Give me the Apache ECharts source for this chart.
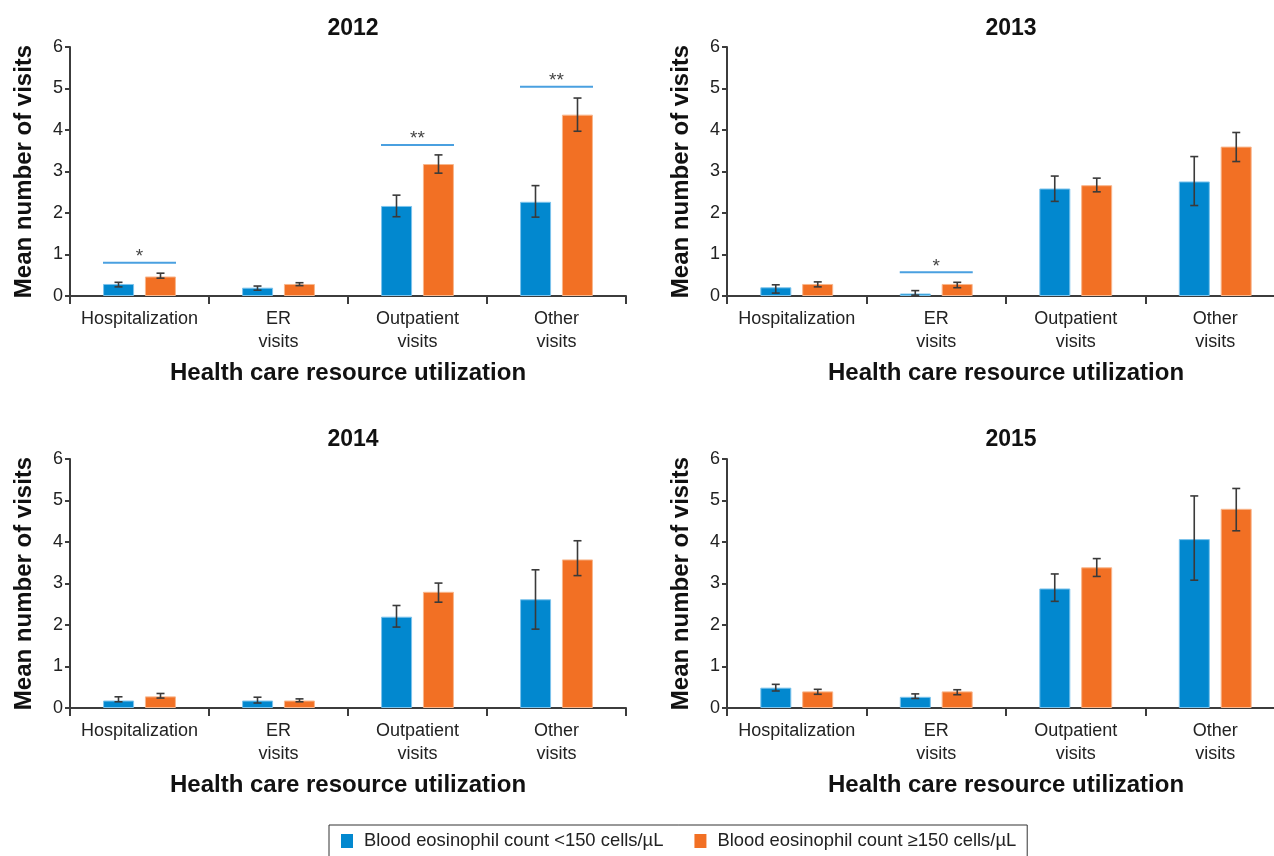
<!DOCTYPE html>
<html><head><meta charset="utf-8">
<script src="https://cdn.jsdelivr.net/npm/echarts@6/dist/echarts.min.js"></script>
<style>html,body{margin:0;padding:0;background:#fff;overflow:hidden;width:1274px;height:856px}#c{width:1290px;height:856px}</style>
</head><body><div id="c"></div>
<script>
const categories = ['Hospitalization', 'ER\nvisits', 'Outpatient\nvisits', 'Other\nvisits'];
const years = ['2012', '2013', '2014', '2015'];
const seriesNames = ['Blood eosinophil count <150 cells/µL', 'Blood eosinophil count ≥150 cells/µL'];

// Means: low eosinophil (<150) and high eosinophil (>=150)
const lowMean2012 = [0.29, 0.20, 2.17, 2.27];
const highMean2012 = [0.47, 0.29, 3.18, 4.37];
const lowMean2013 = [0.21, 0.06, 2.59, 2.76];
const highMean2013 = [0.29, 0.29, 2.67, 3.60];
const lowMean2014 = [0.18, 0.18, 2.20, 2.62];
const highMean2014 = [0.28, 0.18, 2.80, 3.58];
const lowMean2015 = [0.49, 0.27, 2.88, 4.07];
const highMean2015 = [0.40, 0.40, 3.39, 4.80];

// Error bar ranges [lower, upper]
const lowErr2012 = [[0.22, 0.33], [0.14, 0.24], [1.91, 2.43], [1.90, 2.66]];
const highErr2012 = [[0.43, 0.55], [0.25, 0.32], [2.96, 3.40], [3.97, 4.77]];
const lowErr2013 = [[0.07, 0.27], [0.02, 0.13], [2.28, 2.89], [2.18, 3.36]];
const highErr2013 = [[0.22, 0.34], [0.20, 0.33], [2.51, 2.84], [3.24, 3.94]];
const lowErr2014 = [[0.15, 0.27], [0.12, 0.26], [1.95, 2.47], [1.90, 3.33]];
const highErr2014 = [[0.24, 0.35], [0.15, 0.22], [2.55, 3.01], [3.19, 4.03]];
const lowErr2015 = [[0.41, 0.57], [0.23, 0.34], [2.57, 3.23], [3.08, 5.11]];
const highErr2015 = [[0.33, 0.45], [0.32, 0.44], [3.17, 3.60], [4.27, 5.29]];

// Significance markers: [category index, line level, marker]
const sig2012 = [[0, 0.80, '*'], [2, 3.64, '**'], [3, 5.04, '**']];
const sig2013 = [[1, 0.57, '*']];
const sig2014 = [];
const sig2015 = [];

const lowMeans = [lowMean2012, lowMean2013, lowMean2014, lowMean2015];
const highMeans = [highMean2012, highMean2013, highMean2014, highMean2015];
const lowErrs = [lowErr2012, lowErr2013, lowErr2014, lowErr2015];
const highErrs = [highErr2012, highErr2013, highErr2014, highErr2015];
const sigs = [sig2012, sig2013, sig2014, sig2015];

const FONT = '"Liberation Sans", Arial, Helvetica, sans-serif';
const BLUE = '#0288cf';
const ORANGE = '#f27024';
const AXIS = '#3c3c3c';
const BAR_W = 31;
const HALF_OFF = 21;

const gridPos = [
  {left: 70, top: 47, width: 556, height: 249},
  {left: 727, top: 47, width: 558, height: 249},
  {left: 70, top: 459, width: 556, height: 249},
  {left: 727, top: 459, width: 558, height: 249}
];
const titlePos = [
  {left: 348, top: 12}, {left: 1006, top: 12}, {left: 348, top: 423}, {left: 1006, top: 423}
];

function errRender(offset) {
  return function (params, api) {
    const x = api.value(0), lo = api.value(1), hi = api.value(2);
    const pLo = api.coord([x, lo]), pHi = api.coord([x, hi]);
    const cx = pLo[0] + offset;
    const cap = 4;
    const style = {stroke: '#3a3a3a', lineWidth: 1.6};
    return {type: 'group', children: [
      {type: 'line', shape: {x1: cx, y1: pHi[1], x2: cx, y2: pLo[1]}, style: style},
      {type: 'line', shape: {x1: cx - cap, y1: pHi[1], x2: cx + cap, y2: pHi[1]}, style: style},
      {type: 'line', shape: {x1: cx - cap, y1: pLo[1], x2: cx + cap, y2: pLo[1]}, style: style}
    ]};
  };
}

function sigRender(list) {
  return function (params, api) {
    const p = api.coord([api.value(0), api.value(1)]);
    const half = HALF_OFF + BAR_W / 2;
    return {type: 'group', children: [
      {type: 'line', shape: {x1: p[0] - half, y1: p[1], x2: p[0] + half, y2: p[1]}, style: {stroke: '#4aa0e0', lineWidth: 2}},
      {type: 'text', x: p[0], y: p[1] - 6, style: {text: list[params.dataIndex][2], font: '19px ' + FONT, fill: '#444', align: 'center', verticalAlign: 'middle'}}
    ]};
  };
}

const option = {
  animation: false,
  backgroundColor: '#fff',
  textStyle: {fontFamily: FONT},
  title: years.map((y, i) => ({
    text: y, left: titlePos[i].left, top: titlePos[i].top, textAlign: 'center',
    textStyle: {fontSize: 23, fontWeight: 'bold', color: '#111', fontFamily: FONT}
  })),
  legend: {
    data: seriesNames, left: 329, top: 825, icon: 'rect', itemWidth: 12, itemHeight: 14, itemGap: 31,
    itemStyle: {borderWidth: 0},
    borderColor: '#333', borderWidth: 1, padding: [7, 11, 12, 12],
    textStyle: {fontSize: 18.4, color: '#222', fontFamily: FONT, padding: [0, 0, 0, 6]}
  },
  grid: gridPos.map(g => Object.assign({containLabel: false}, g)),
  xAxis: years.map((y, i) => ({
    type: 'category', gridIndex: i, data: categories,
    axisLine: {lineStyle: {color: AXIS, width: 2}},
    axisTick: {show: true, length: 8, lineStyle: {color: AXIS, width: 2}},
    axisLabel: {fontSize: 18, color: '#222', lineHeight: 23, margin: 12, interval: 0, fontFamily: FONT},
    splitLine: {show: false},
    name: 'Health care resource utilization', nameLocation: 'middle', nameGap: 65,
    nameTextStyle: {fontSize: 24, fontWeight: 'bold', color: '#111', fontFamily: FONT}
  })),
  yAxis: years.map((y, i) => ({
    type: 'value', gridIndex: i, min: 0, max: 6, interval: 1,
    axisLine: {show: true, lineStyle: {color: AXIS, width: 2}},
    axisTick: {show: true, length: 5, lineStyle: {color: AXIS, width: 2}},
    axisLabel: {fontSize: 18, color: '#222', margin: 7, fontFamily: FONT},
    splitLine: {show: false},
    name: 'Mean number of visits', nameLocation: 'middle', nameGap: 34,
    nameTextStyle: {fontSize: 24, fontWeight: 'bold', color: '#111', fontFamily: FONT}
  })),
  series: []
};

years.forEach((y, i) => {
  option.series.push({
    type: 'bar', name: seriesNames[0], xAxisIndex: i, yAxisIndex: i, data: lowMeans[i],
    barWidth: BAR_W, barGap: '35%',
    itemStyle: {color: BLUE, borderColor: '#7cc3ec', borderWidth: 1}
  });
  option.series.push({
    type: 'bar', name: seriesNames[1], xAxisIndex: i, yAxisIndex: i, data: highMeans[i],
    barWidth: BAR_W, barGap: '35%',
    itemStyle: {color: ORANGE, borderColor: '#f8b68c', borderWidth: 1}
  });
  option.series.push({
    type: 'custom', xAxisIndex: i, yAxisIndex: i, z: 5, silent: true,
    renderItem: errRender(-HALF_OFF),
    data: lowErrs[i].map((e, k) => [k, e[0], e[1]])
  });
  option.series.push({
    type: 'custom', xAxisIndex: i, yAxisIndex: i, z: 5, silent: true,
    renderItem: errRender(HALF_OFF),
    data: highErrs[i].map((e, k) => [k, e[0], e[1]])
  });
  if (sigs[i].length) {
    option.series.push({
      type: 'custom', xAxisIndex: i, yAxisIndex: i, z: 6, silent: true,
      renderItem: sigRender(sigs[i]),
      data: sigs[i].map(s => [s[0], s[1]])
    });
  }
});

const chart = echarts.init(document.getElementById('c'), null, {renderer: 'canvas'});
chart.setOption(option);
</script>
</body></html>
